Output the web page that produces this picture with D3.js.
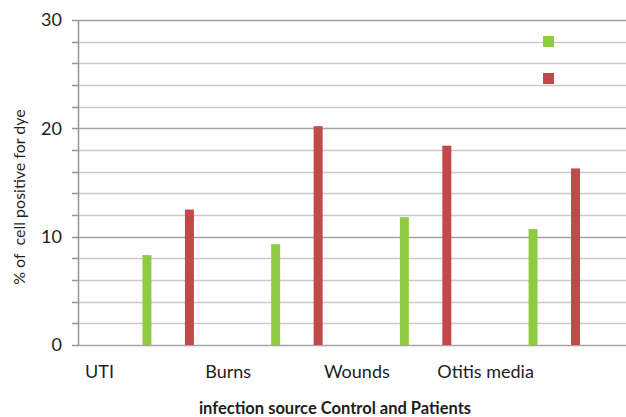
<!DOCTYPE html>
<html>
<head>
<meta charset="utf-8">
<script src="https://cdn.jsdelivr.net/npm/d3@7"></script>
<style>
  body { margin: 0; background: #fff; }
  svg text { font-family: Lato, "Open Sans", sans-serif; fill: #1e1e1e; }
</style>
</head>
<body>
<script>
'use strict';

var categories = ['UTI', 'Burns', 'Wounds', 'Otitis media'];
var seriesNames = ['Control', 'Patients'];
var controlValues = [8.3, 9.3, 11.8, 10.7];
var patientValues = [12.5, 20.2, 18.4, 16.3];
var yTicks = [0, 10, 20, 30];
var yGrid = d3.range(0, 31, 2);

var width = 626, height = 417;
var margin = { top: 20, right: 0, bottom: 72, left: 79 };
var colors = { Control: '#8fcc46', Patients: '#c2484a' };

var svg = d3.select('body').append('svg')
    .attr('width', width)
    .attr('height', height);

// four category bands; the plot runs on past the last one
var x = d3.scaleBand()
    .domain(categories)
    .range([margin.left, margin.left + 4 * 128.7]);

var y = d3.scaleLinear()
    .domain([0, 30])
    .range([height - margin.bottom, margin.top]);

// gridlines
svg.append('g')
    .selectAll('line')
    .data(yGrid)
    .enter().append('line')
    .attr('x1', margin.left)
    .attr('x2', width)
    .attr('y1', function(d) { return Math.round(y(d)) + 0.5; })
    .attr('y2', function(d) { return Math.round(y(d)) + 0.5; })
    .attr('stroke', function(d) { return d % 10 === 0 ? '#a9a3a3' : '#cfc8c8'; })
    .attr('stroke-width', 1.5);

// y axis line + ticks
svg.append('line')
    .attr('x1', margin.left - 0.5).attr('x2', margin.left - 0.5)
    .attr('y1', y(30)).attr('y2', y(0))
    .attr('stroke', '#9a9494').attr('stroke-width', 1.5);

svg.append('g')
    .selectAll('line')
    .data(yGrid)
    .enter().append('line')
    .attr('x1', margin.left - 7)
    .attr('x2', margin.left)
    .attr('y1', function(d) { return Math.round(y(d)) + 0.5; })
    .attr('y2', function(d) { return Math.round(y(d)) + 0.5; })
    .attr('stroke', '#9a9494').attr('stroke-width', 1.5);

svg.append('g')
    .selectAll('text')
    .data(yTicks)
    .enter().append('text')
    .attr('x', 62)
    .attr('y', function(d) { return y(d); })
    .attr('dy', '0.35em')
    .attr('text-anchor', 'end')
    .style('font-size', '18px')
    .text(function(d) { return d; });

// bars
var sub = d3.scaleOrdinal()
    .domain(seriesNames)
    .range([0.528, 0.858]);
var barW = 9;

var rows = [];
categories.forEach(function(c, i) {
    rows.push({ cat: c, s: 'Control', v: controlValues[i] });
    rows.push({ cat: c, s: 'Patients', v: patientValues[i] });
});

svg.append('g')
    .selectAll('rect')
    .data(rows)
    .enter().append('rect')
    .attr('x', function(d) { return x(d.cat) + x.bandwidth() * sub(d.s) - barW / 2; })
    .attr('y', function(d) { return y(d.v); })
    .attr('width', barW)
    .attr('height', function(d) { return y(0) - y(d.v); })
    .attr('fill', function(d) { return colors[d.s]; });

// category labels
svg.append('g')
    .selectAll('text')
    .data(categories)
    .enter().append('text')
    .attr('x', function(d) { return x(d) + 20.5; })
    .attr('y', 378)
    .attr('text-anchor', 'middle')
    .style('font-size', '18px')
    .text(function(d) { return d; });

// legend markers (labels missing in the original)
svg.append('g')
    .selectAll('rect')
    .data(seriesNames)
    .enter().append('rect')
    .attr('x', 543)
    .attr('y', function(d, i) { return 36 + i * 37; })
    .attr('width', 11)
    .attr('height', 11)
    .attr('fill', function(d) { return colors[d]; });

// axis titles
svg.append('text')
    .attr('transform', 'translate(25,' + 197 + ') rotate(-90)')
    .attr('text-anchor', 'middle')
    .style('font-size', '16px')
    .style('white-space', 'pre')
    .text('% of  cell positive for dye');

svg.append('text')
    .attr('x', 335)
    .attr('y', 414)
    .attr('text-anchor', 'middle')
    .style('font-size', '16.5px')
    .style('font-weight', 'bold')
    .text('infection source Control and Patients');
</script>
</body>
</html>
